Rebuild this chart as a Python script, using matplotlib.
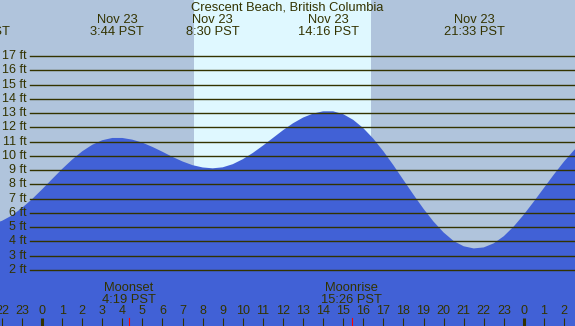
import matplotlib.pyplot as plt
import matplotlib.transforms as mtransforms

plt.rcParams['font.family'] = ['Liberation Sans', 'DejaVu Sans']

# tide heights (ft), every half hour from Nov 22 21:30
hours = [-2.5, -2.0, -1.5, -1.0, -0.5, 0.0, 0.5, 1.0, 1.5, 2.0, 2.5, 3.0, 3.5,
         4.0, 4.5, 5.0, 5.5, 6.0, 6.5, 7.0, 7.5, 8.0, 8.5, 9.0, 9.5, 10.0,
         10.5, 11.0, 11.5, 12.0, 12.5, 13.0, 13.5, 14.0, 14.5, 15.0, 15.5,
         16.0, 16.5, 17.0, 17.5, 18.0, 18.5, 19.0, 19.5, 20.0, 20.5, 21.0,
         21.5, 22.0, 22.5, 23.0, 23.5, 24.0, 24.5, 25.0, 25.5, 26.0, 26.5, 27.0]
heights = [5.21, 5.43, 5.81, 6.34, 6.95, 7.64, 8.36, 9.07, 9.73, 10.31, 10.77,
           11.09, 11.25, 11.25, 11.13, 10.92, 10.62, 10.28, 9.92, 9.60, 9.34,
           9.18, 9.12, 9.19, 9.41, 9.76, 10.20, 10.71, 11.25, 11.79, 12.28,
           12.68, 12.96, 13.12, 13.12, 12.92, 12.52, 11.94, 11.20, 10.32, 9.34,
           8.30, 7.27, 6.28, 5.38, 4.62, 4.02, 3.65, 3.50, 3.57, 3.86, 4.36,
           5.05, 5.88, 6.80, 7.75, 8.70, 9.60, 10.40, 11.06]

# high / low tide labels
extreme_hours = [-3.12, 3.733, 8.5, 14.267, 21.55]
extreme_dates = ['Nov 22', 'Nov 23', 'Nov 23', 'Nov 23', 'Nov 23']
extreme_times = ['20:53 PST', '3:44 PST', '8:30 PST', '14:16 PST', '21:33 PST']

sunrise, sunset = 7.57, 16.38
moon_hours = [4.317, 15.433]
moon_events = ['Moonset', 'Moonrise']
moon_times = ['4:19 PST', '15:26 PST']

tick_hours = list(range(-2, 27))
tick_labels = [str(h % 24) for h in tick_hours]
grid_levels = list(range(2, 18))

night = '#b0c4dc'
day = '#dff8ff'
water = '#4161d6'
ink = '#333300'

fig = plt.figure(figsize=(5.75, 3.26), dpi=100)
ax = fig.add_axes([0, 0, 1, 1])
ax.set_xlim(-2.092, 26.544)
ax.set_ylim(-1.944, 20.93)
ax.set_facecolor(night)
for s in ax.spines.values():
    s.set_visible(False)
ax.set_xticks([])
ax.set_yticks([])

ax.axvspan(sunrise, sunset, color=day, lw=0, zorder=0)
ax.fill_between(hours, -5, heights, color=water, lw=0, zorder=1)

for lv in grid_levels:
    ax.axhline(lv, xmin=30 / 575, xmax=1, color=ink, lw=1.0, zorder=2)
    ax.text(-0.77, lv, f'{lv} ft', ha='right', va='center', fontsize=9,
            color=ink, zorder=3)

trans = mtransforms.blended_transform_factory(ax.transData, ax.transAxes)

# title and tide extremes
ax.text(0.5, 1 - 7.5 / 326, 'Crescent Beach, British Columbia',
        transform=ax.transAxes, ha='center', va='center', fontsize=9.3, color=ink)
for t, d, tm in zip(extreme_hours, extreme_dates, extreme_times):
    ax.text(t, 1 - 20 / 326, d, transform=trans, ha='center', va='center',
            fontsize=9.3, color=ink)
    ax.text(t, 1 - 32 / 326, tm, transform=trans, ha='center', va='center',
            fontsize=9.3, color=ink)

# moon events
for t, ev, tm in zip(moon_hours, moon_events, moon_times):
    ax.text(t, 1 - 288 / 326, ev, transform=trans, ha='center', va='center',
            fontsize=9.3, color=ink, zorder=4)
    ax.text(t, 1 - 300 / 326, tm, transform=trans, ha='center', va='center',
            fontsize=9.3, color=ink, zorder=4)
    ax.plot([t, t], [0, 8 / 326], transform=trans, color='#ff0000', lw=0.8,
            zorder=4)

# hour ticks
for h, lab in zip(tick_hours, tick_labels):
    w = 2.2 if h % 24 == 0 else 0.8
    ax.plot([h, h], [0, 8 / 326], transform=trans, color=ink, lw=w, zorder=4,
            solid_capstyle='butt')
    ax.text(h, 1 - 311.5 / 326, lab, transform=trans, ha='center', va='center',
            fontsize=9, color=ink, zorder=4)

fig.savefig('out.png', dpi=100)
